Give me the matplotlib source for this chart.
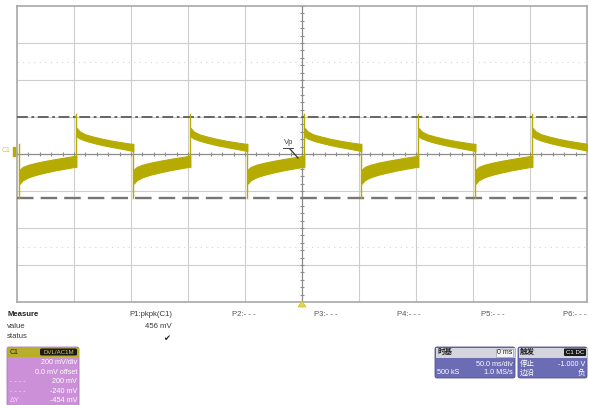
import numpy as np
import matplotlib
matplotlib.use("Agg")
import matplotlib.pyplot as plt
from matplotlib.patches import FancyBboxPatch, Rectangle, Polygon

plt.rcParams['font.family'] = ['Liberation Sans', 'Noto Sans CJK SC', 'DejaVu Sans']

# Scope settings
time_div_ms = 50
volt_div_mv = 200
n_hdiv = 10
n_vdiv = 8

# Edge times of the square drive (ms)
falling_edges_ms = [-248, -148, -48, 52, 152]
rising_edges_ms = [-198, -98, 2, 102, 202]

# Trace band after a rising edge: time since edge (ms), band top / bottom (mV)
high_t_ms = [0.5, 3, 8, 15, 23, 32, 41, 50]
high_top_mv = [140, 122, 106, 94, 82, 71, 62, 54]
high_bot_mv = [94, 84, 72, 60, 48, 37, 27, 16]

# Trace band after a falling edge
low_t_ms = [0.5, 3, 8, 15, 23, 32, 41, 50]
low_top_mv = [-84, -70, -58, -47, -37, -27, -18, -9]
low_bot_mv = [-160, -142, -126, -112, -100, -88, -78, -68]

# Edge overshoots (mV)
spike_high_mv = 216
spike_low_mv = -240

# Cursors (mV)
cursor_a_mv = 200
cursor_b_mv = -240

trace_color = '#b6ab00'
W, H = 589, 405

fig = plt.figure(figsize=(W / 100, H / 100), dpi=100)
fig.patch.set_facecolor('white')

# ---- scope graticule ----
x0, x1, y0, y1 = 17, 587, 6, 302
ax = fig.add_axes([x0 / W, (H - y1) / H, (x1 - x0) / W, (y1 - y0) / H])
tmax = time_div_ms * n_hdiv / 2
vmax = volt_div_mv * n_vdiv / 2
ax.set_xlim(-tmax, tmax)
ax.set_ylim(-vmax, vmax)
ax.set_xticks([])
ax.set_yticks([])
for s in ax.spines.values():
    s.set_color('#a8a8a8')
    s.set_linewidth(1.2)

for k in range(1, n_hdiv):
    t = -tmax + k * time_div_ms
    if abs(t) > 1e-9:
        ax.axvline(t, color='#cdcdcd', lw=0.8, zorder=1)
for k in range(1, n_vdiv):
    v = -vmax + k * volt_div_mv
    if abs(v) > 1e-9:
        ax.axhline(v, color='#cdcdcd', lw=0.8, zorder=1)

# faint half-division dotted rows
for v in (500, -500):
    ax.axhline(v, color='#d4d4d4', lw=0.8, ls=(0, (1, 4)), zorder=1)

# centre cross with minor ticks
ax.axhline(0, color='#8c8c8c', lw=0.9, zorder=2)
ax.axvline(0, color='#8c8c8c', lw=0.9, zorder=2)
tx = np.arange(-tmax, tmax + 1, time_div_ms / 5)
ax.vlines(tx, -11, 11, color='#8c8c8c', lw=0.8, zorder=2)
vy = np.arange(-vmax, vmax + 1, volt_div_mv / 5)
ax.hlines(vy, -1.8, 1.8, color='#8c8c8c', lw=0.8, zorder=2)

# cursors
ax.axhline(cursor_a_mv, color='#5c5c5c', lw=1.3, dashes=(6, 2, 1.5, 2), zorder=3)
ax.axhline(cursor_b_mv, color='#767676', lw=1.7, dashes=(7, 3), zorder=3)

# ---- trace ----
ht = np.array(high_t_ms)
lt = np.array(low_t_ms)
for r in rising_edges_ms:
    ax.fill_between(r + ht, high_bot_mv, high_top_mv, color=trace_color, lw=0.8,
                    edgecolor=trace_color, zorder=4)
    ax.plot([r, r], [low_bot_mv[-1], spike_high_mv], color=trace_color, lw=1.0, zorder=4)
for f in falling_edges_ms:
    ax.fill_between(f + lt, low_bot_mv, low_top_mv, color=trace_color, lw=0.8,
                    edgecolor=trace_color, zorder=4)
    ax.plot([f, f], [high_top_mv[-1], spike_low_mv], color=trace_color, lw=1.0, zorder=4)

# ---- overlay in pixel coordinates ----
ov = fig.add_axes([0, 0, 1, 1], zorder=5)
ov.set_xlim(0, W)
ov.set_ylim(H, 0)
ov.axis('off')
ov.patch.set_alpha(0)

fs = 5.6
txt = '#3a3a3a'

# channel marker and label on the trace
ov.text(2, 151, 'C1', fontsize=5, color='#c8c060', va='center', ha='left')
ov.add_patch(Rectangle((12.5, 146.5), 2.2, 9, color=trace_color))
ov.text(284, 146, 'Vp', fontsize=5.6, color='#444444', va='bottom', ha='left')
ov.plot([283, 293], [147.5, 147.5], color='#444444', lw=0.7)
ov.plot([290, 298], [149, 158], color='#333333', lw=0.9)

# trigger marker
ov.add_patch(Polygon([[298, 307], [306, 307], [302, 301]], closed=True,
                     facecolor='#e0d84a', edgecolor='#c8c030', lw=0.5))

# measurement table
ov.text(7, 315, 'Measure', fontsize=fs, weight='bold', color='#222222', va='center')
ov.text(7, 326, 'value', fontsize=fs, color=txt, va='center')
ov.text(7, 337, 'status', fontsize=fs, color=txt, va='center')
ov.text(172, 315, 'P1:pkpk(C1)', fontsize=fs, color=txt, va='center', ha='right')
ov.text(172, 326, '456 mV', fontsize=fs, color=txt, va='center', ha='right')
ov.text(167, 338, '\u2714', fontsize=6, color='#222222', va='center', ha='center',
        family=['DejaVu Sans'])
for lab, xp in zip(['P2:- - -', 'P3:- - -', 'P4:- - -', 'P5:- - -', 'P6:- - -'],
                   [232, 314, 397, 481, 563]):
    ov.text(xp, 315, lab, fontsize=fs, color='#555555', va='center')

# channel descriptor box
ov.add_patch(FancyBboxPatch((7, 347), 72, 62, boxstyle='round,pad=0,rounding_size=2',
                            facecolor='#cc90d8', edgecolor='#b078c0', lw=0.6))
ov.add_patch(Rectangle((7.5, 347.5), 71, 9, facecolor='#b8ae28', edgecolor='none'))
ov.text(10, 352, 'C1', fontsize=5, color='#202020', va='center')
ov.add_patch(FancyBboxPatch((40, 348.5), 37, 7, boxstyle='round,pad=0,rounding_size=1.5',
                            facecolor='#1a1a1a', edgecolor='none'))
ov.text(58.5, 352, 'DVL/AC1M', fontsize=4.4, color='#d8d060', va='center', ha='center')
rows = ['200 mV/div', '0.0 mV offset', '200 mV', '-240 mV', '-454 mV']
for i, r in enumerate(rows):
    ov.text(77, 363 + i * 9.4, r, fontsize=5.2, color='white', va='center', ha='right')
ov.text(10, 381.8, '- - - -', fontsize=5, color='#f0e0f4', va='center')
ov.text(10, 391.2, '- - - -', fontsize=5, color='#f0e0f4', va='center')
ov.text(10, 400.6, '\u0394Y', fontsize=5.2, color='#f0e0f4', va='center')

# timebase box
ov.add_patch(FancyBboxPatch((435, 347), 80, 31, boxstyle='round,pad=0,rounding_size=2',
                            facecolor='#6c6cb4', edgecolor='#50509a', lw=0.6))
ov.add_patch(Rectangle((435.5, 347.5), 79, 10, facecolor='#d4d4dc', edgecolor='none'))
ov.text(437, 352.5, '时基', fontsize=5.4, color='#202020', va='center', weight='bold')
ov.add_patch(Rectangle((496, 348.5), 17, 8, facecolor='#f4f4f4', edgecolor='#9090a0', lw=0.4))
ov.text(512, 352.5, '0 ms', fontsize=5, color='#202020', va='center', ha='right')
ov.text(513, 364, '50.0 ms/div', fontsize=5.2, color='white', va='center', ha='right')
ov.text(437, 373, '500 kS', fontsize=5.2, color='white', va='center')
ov.text(513, 373, '1.0 MS/s', fontsize=5.2, color='white', va='center', ha='right')

# trigger box
ov.add_patch(FancyBboxPatch((518, 347), 69, 31, boxstyle='round,pad=0,rounding_size=2',
                            facecolor='#6c6cb4', edgecolor='#50509a', lw=0.6))
ov.add_patch(Rectangle((518.5, 347.5), 68, 10, facecolor='#d4d4dc', edgecolor='none'))
ov.text(520, 352.5, '触发', fontsize=5.4, color='#202020', va='center', weight='bold')
ov.add_patch(FancyBboxPatch((564, 348.5), 22, 7.5, boxstyle='round,pad=0,rounding_size=1',
                            facecolor='#1a1a1a', edgecolor='none'))
ov.text(575, 352.3, 'C1 DC', fontsize=4.4, color='white', va='center', ha='center')
ov.text(520, 364, '停止', fontsize=5.4, color='white', va='center')
ov.text(585, 364, '-1.000 V', fontsize=5.2, color='white', va='center', ha='right')
ov.text(520, 373, '边沿', fontsize=5.4, color='white', va='center')
ov.text(585, 373, '负', fontsize=5.4, color='white', va='center', ha='right')

fig.savefig('out.png', dpi=100, facecolor='white')
